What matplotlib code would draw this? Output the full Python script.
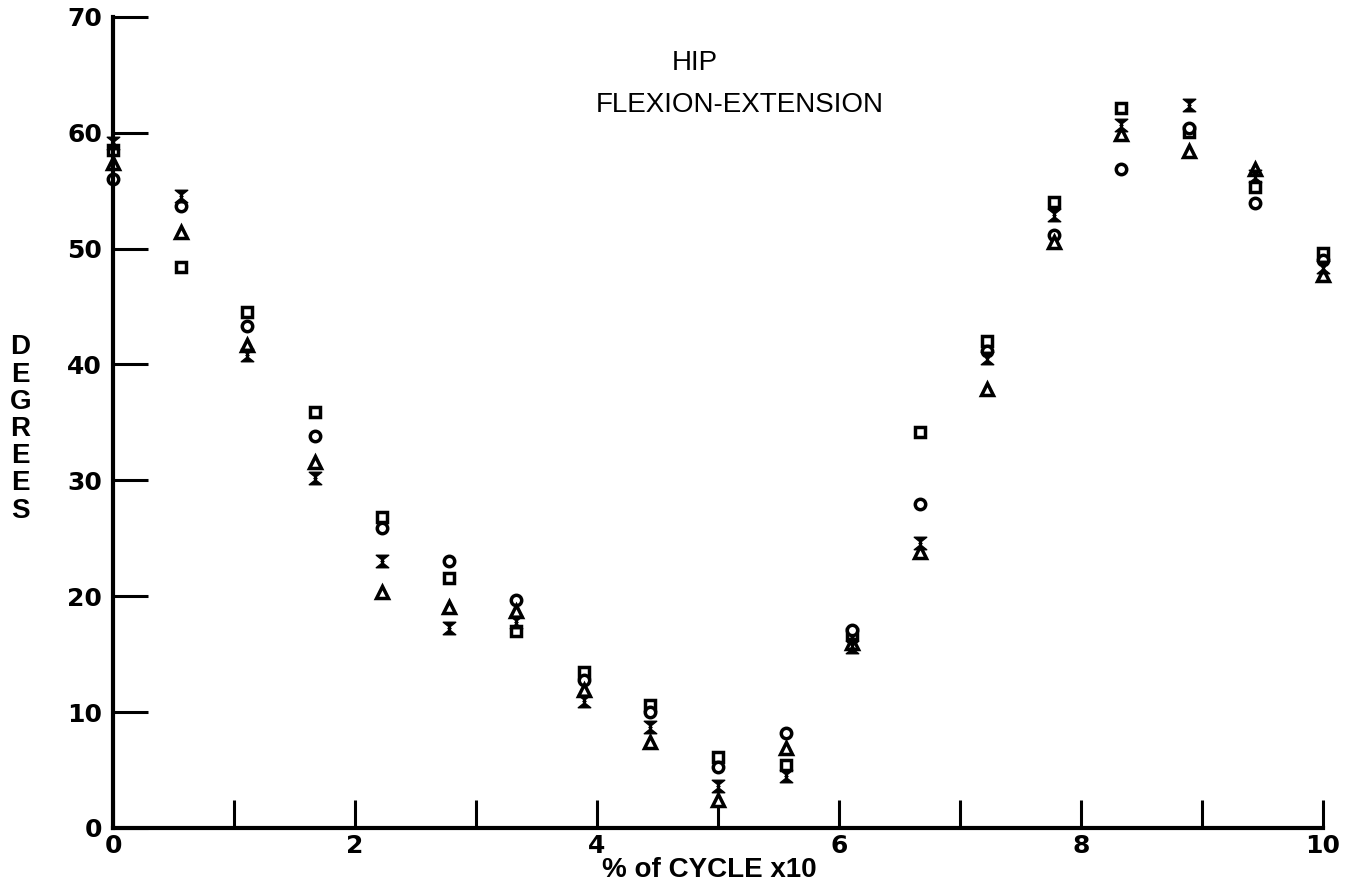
import matplotlib.pyplot as plt
from matplotlib.path import Path

# percent of gait cycle (x10)
cycle = [0.0, 0.56, 1.11, 1.67, 2.22, 2.78, 3.33, 3.89, 4.44, 5.0,
         5.56, 6.11, 6.67, 7.22, 7.78, 8.33, 8.89, 9.44, 10.0]

# hip angle in degrees, one list per subject / trial symbol
squares = [58.5, 48.4, 44.5, 35.9, 26.8, 21.6, 17.0, 13.5, 10.6, 6.1,
           5.4, 16.7, 34.2, 42.0, 54.0, 62.1, 60.1, 55.3, 49.6]
circles = [56.0, 53.7, 43.3, 33.8, 25.9, 23.0, 19.7, 12.8, 10.0, 5.3,
           8.2, 17.1, 28.0, 41.2, 51.2, 56.9, 60.4, 53.9, 49.0]
triangles = [57.4, 51.4, 41.7, 31.6, 20.4, 19.1, 18.7, 11.9, 7.4, 2.4,
             6.9, 16.0, 23.8, 37.9, 50.6, 59.9, 58.4, 56.9, 47.7]
crosses = [59.1, 54.5, 40.8, 30.2, 23.0, 17.3, 17.8, 11.0, 8.7, 3.6,
           4.5, 15.6, 24.6, 40.6, 52.9, 60.7, 62.4, 56.3, 48.4]

plt.rcParams['font.family'] = ['Liberation Sans', 'DejaVu Sans']

# hourglass shaped marker like the hand drawn "x"
hourglass = Path([(-1, 1), (1, 1), (-0.25, 0), (1, -1), (-1, -1), (0.25, 0), (-1, 1)],
                 [Path.MOVETO] + [Path.LINETO] * 5 + [Path.CLOSEPOLY])

fig = plt.figure(figsize=(13.54, 8.88), dpi=100)
ax = fig.add_axes([0.0835, 0.0676, 0.8935, 0.9134])

ms = 7.5
ax.plot(cycle, squares, ls='none', marker='s', ms=ms, mfc='white', mec='black', mew=2.5)
ax.plot(cycle, circles, ls='none', marker='o', ms=ms, mfc='white', mec='black', mew=2.5)
ax.plot(cycle, triangles, ls='none', marker='^', ms=ms + 1.5, mfc='white', mec='black', mew=2.5)
ax.plot(cycle, crosses, ls='none', marker=hourglass, ms=9, mfc='black', mec='black', mew=1)

ax.set_xlim(0, 10)
ax.set_ylim(0, 70)
ax.set_xticks(range(0, 11))
ax.set_xticklabels([str(i) if i % 2 == 0 else '' for i in range(0, 11)])
ax.set_yticks(range(0, 71, 10))

for side in ['top', 'right']:
    ax.spines[side].set_visible(False)
for side in ['left', 'bottom']:
    ax.spines[side].set_linewidth(3)

ax.tick_params(axis='y', direction='in', length=25, width=2.2, labelsize=18, pad=8)
ax.tick_params(axis='x', direction='in', length=20, width=2.2, labelsize=18, pad=4)
for lab in ax.get_xticklabels() + ax.get_yticklabels():
    lab.set_fontweight('bold')
    lab.set_family('DejaVu Sans')
for line in ax.lines:
    line.set_clip_on(False)

ax.text(4.81, 66.0, 'HIP', fontsize=20, ha='center', va='center')
ax.text(5.18, 62.4, 'FLEXION-EXTENSION', fontsize=20, ha='center', va='center')

fig.text(0.015, 0.517, '\n'.join('DEGREES'), fontsize=20, fontweight='bold',
         ha='center', va='center', linespacing=1.06)
fig.text(0.524, 0.02, '% of CYCLE x10', fontsize=20, fontweight='bold',
         ha='center', va='center')

plt.savefig('out.png', dpi=100)
